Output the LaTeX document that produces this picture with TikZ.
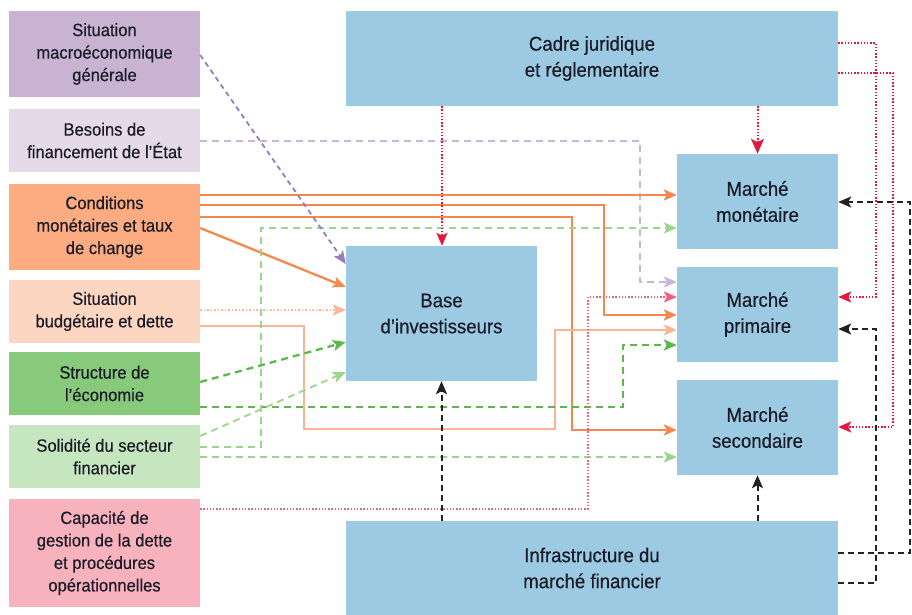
\documentclass[tikz,border=0pt]{standalone}
\usepackage{fontspec}
\setmainfont[FakeStretch=0.93,FakeBold=0.4]{Liberation Sans}
\usetikzlibrary{arrows.meta}
\definecolor{txt}{HTML}{1B1B28}
\definecolor{blu}{HTML}{9BCAE2}
\definecolor{fmacro}{HTML}{C8B4D2}
\definecolor{fbes}{HTML}{E4DAE9}
\definecolor{fcond}{HTML}{FDAC82}
\definecolor{fbudg}{HTML}{FDD6C2}
\definecolor{fstruct}{HTML}{88CA7B}
\definecolor{fsolid}{HTML}{C6E6BF}
\definecolor{fcapa}{HTML}{F7B2BD}
\definecolor{cpurp}{HTML}{9B7BB8}
\definecolor{clpurp}{HTML}{C8B6D8}
\definecolor{corng}{HTML}{F6874F}
\definecolor{clorng}{HTML}{FBB594}
\definecolor{cgrn}{HTML}{5CB84C}
\definecolor{clgrn}{HTML}{9AD58E}
\definecolor{cpink}{HTML}{EF5F7E}
\definecolor{cred}{HTML}{E5173F}
\definecolor{cblk}{HTML}{222222}
\tikzset{
  lbox/.style={draw=none, minimum width=191pt, inner sep=0pt, align=center, text=txt,
    font=\fontsize{17.8}{22.5}\selectfont},
  cbox/.style={fill=blu, draw=none, inner sep=0pt, align=center, text=txt,
    font=\fontsize{20}{26}\selectfont},
  tip/.style={-{Stealth[length=13pt,width=11pt,inset=3pt]}},
  bigtip/.style={-{Stealth[length=15pt,width=13pt,inset=3.5pt]}},
  purpline/.style={tip, draw=cpurp, line width=1.8pt, dash pattern=on 5pt off 4pt},
  lpurpline/.style={tip, draw=clpurp, line width=1.6pt, dash pattern=on 7pt off 5pt},
  orngline/.style={tip, draw=corng, line width=2.3pt},
  lorngline/.style={tip, draw=clorng, line width=1.8pt},
  lorngdot/.style={tip, draw=clorng, line width=2pt, dash pattern=on 1.5pt off 2pt},
  grnline/.style={tip, draw=cgrn, line width=2.3pt, dash pattern=on 7pt off 5pt},
  lgrnline/.style={tip, draw=clgrn, line width=1.8pt, dash pattern=on 7pt off 5pt},
  pinkline/.style={tip, draw=cpink, line width=1.8pt, dash pattern=on 1.4pt off 1.8pt},
  redline/.style={tip, draw=cred, line width=2pt, dash pattern=on 1.4pt off 1.8pt},
  blkline/.style={tip, draw=cblk, line width=2pt, dash pattern=on 6pt off 4pt},
}
\begin{document}
\begin{tikzpicture}[x=1pt,y=-1pt]
\useasboundingbox (0,0) rectangle (912,615);
% left boxes
\node[lbox, fill=fmacro, minimum height=86pt] (macro) at (104.5,54) {Situation\\macroéconomique\\générale};
\node[lbox, fill=fbes, minimum height=63pt] (besoins) at (104.5,140.5) {Besoins de\\financement de l'État};
\node[lbox, fill=fcond, minimum height=86pt] (cond) at (104.5,227) {Conditions\\monétaires et taux\\de change};
\node[lbox, fill=fbudg, minimum height=63pt] (budg) at (104.5,311.5) {Situation\\budgétaire et dette};
\node[lbox, fill=fstruct, minimum height=63pt] (struct) at (104.5,383.5) {Structure de\\l’économie};
\node[lbox, fill=fsolid, minimum height=63pt] (solid) at (104.5,456.5) {Solidité du secteur\\financier};
\node[lbox, fill=fcapa, minimum height=108pt] (capa) at (104.5,553) {Capacité de\\gestion de la dette\\et procédures\\opérationnelles};
% blue boxes
\node[cbox, minimum width=492pt, minimum height=95pt] (cadre) at (592,58.5) {Cadre juridique\\et réglementaire};
\node[cbox, minimum width=191pt, minimum height=135pt] (base) at (441.5,313.5) {Base\\d’investisseurs};
\node[cbox, minimum width=161pt, minimum height=95pt] (mon) at (757.5,201.5) {Marché\\monétaire};
\node[cbox, minimum width=161pt, minimum height=95pt] (prim) at (757.5,314.5) {Marché\\primaire};
\node[cbox, minimum width=161pt, minimum height=95pt] (sec) at (757.5,427.5) {Marché\\secondaire};
\node[cbox, minimum width=492pt, minimum height=94pt] (infra) at (592,568) {Infrastructure du\\marché financier};
% connectors from left boxes
\draw[lpurpline] (besoins.east |- 0,141) -| (640,282) -- (prim.west |- 0,282);
\draw[orngline] (cond.east |- 0,195) -- (mon.west |- 0,195);
\draw[orngline] (cond.east |- 0,205) -| (604,315) -- (prim.west |- 0,315);
\draw[orngline] (cond.east |- 0,217) -| (572,430) -- (sec.west |- 0,430);
\draw[orngline] (cond.east |- 0,228) -- (base.west |- 0,287);
\draw[lorngdot] (budg.east |- 0,310) -- (base.west |- 0,310);
\draw[lorngline] (budg.east |- 0,326) -| (304,429) -| (555,330) -- (prim.west |- 0,330);
\draw[grnline] (struct.east |- 0,382) -- (base.west |- 0,342);
\draw[grnline] (struct.east |- 0,407) -| (623,345) -- (prim.west |- 0,345);
\draw[lgrnline] (solid.east |- 0,436) -- (base.west |- 0,372);
\draw[lgrnline] (solid.east |- 0,447) -| (261,228) -- (mon.west |- 0,228);
\draw[lgrnline] (solid.east |- 0,457) -- (sec.west |- 0,457);
\draw[pinkline] (capa.east |- 0,509) -| (588,297) -- (prim.west |- 0,297);
\draw[purpline] (macro.east |- 0,55) -- (base.west |- 0,264);
% from cadre
\draw[redline] (cadre.south -| 442,0) -- (base.north -| 442,0);
\draw[redline, bigtip] (cadre.south -| mon.north) -- (mon.north);
\draw[redline] (cadre.east |- 0,43) -| (876,297) -- (prim.east |- 0,297);
\draw[redline] (cadre.east |- 0,73) -| (893,427) -- (sec.east |- 0,427);
% from infra
\draw[blkline] (infra.north -| base.south) -- (base.south);
\draw[blkline] (infra.north -| sec.south) -- (sec.south);
\draw[blkline] (infra.east |- 0,553) -| (910,202) -- (mon.east |- 0,202);
\draw[blkline] (infra.east |- 0,583) -| (876,329) -- (prim.east |- 0,329);
\end{tikzpicture}
\end{document}
